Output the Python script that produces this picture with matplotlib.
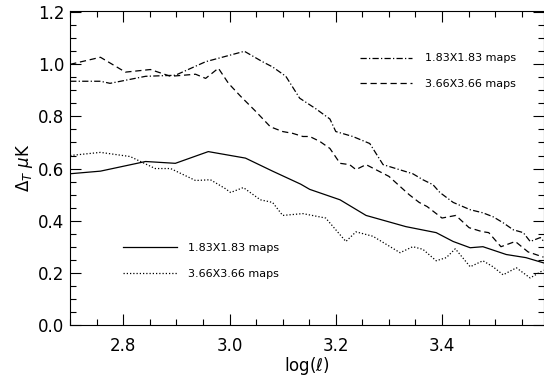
import matplotlib
matplotlib.use("Agg")
import matplotlib.pyplot as plt
from matplotlib.ticker import MultipleLocator

# log(l) sample points and Delta_T values
x_solid = [2.700, 2.757, 2.842, 2.898, 2.960, 3.030, 3.081, 3.134, 3.151, 3.208,
           3.257, 3.332, 3.389, 3.421, 3.453, 3.477, 3.521, 3.558, 3.591]
y_solid = [0.580, 0.590, 0.627, 0.620, 0.665, 0.640, 0.590, 0.540, 0.520, 0.480,
           0.420, 0.377, 0.354, 0.320, 0.296, 0.300, 0.270, 0.258, 0.238]

x_dot = [2.700, 2.757, 2.813, 2.860, 2.889, 2.936, 2.964, 2.992, 3.002, 3.026,
         3.058, 3.081, 3.100, 3.138, 3.181, 3.219, 3.238, 3.270, 3.321, 3.345,
         3.364, 3.389, 3.408, 3.425, 3.453, 3.477, 3.496, 3.515, 3.540, 3.566, 3.591]
y_dot = [0.650, 0.662, 0.646, 0.600, 0.600, 0.554, 0.557, 0.523, 0.508, 0.527,
         0.480, 0.470, 0.420, 0.427, 0.410, 0.320, 0.357, 0.340, 0.277, 0.300,
         0.290, 0.246, 0.258, 0.292, 0.223, 0.246, 0.223, 0.192, 0.219, 0.180, 0.210]

x_dash = [2.700, 2.757, 2.804, 2.851, 2.889, 2.936, 2.955, 2.979, 2.998, 3.021,
          3.049, 3.077, 3.100, 3.119, 3.138, 3.151, 3.170, 3.189, 3.208, 3.226,
          3.238, 3.257, 3.300, 3.338, 3.357, 3.372, 3.400, 3.426, 3.451, 3.475,
          3.488, 3.511, 3.538, 3.562, 3.591]
y_dash = [1.000, 1.027, 0.970, 0.980, 0.954, 0.962, 0.946, 0.985, 0.927, 0.877,
          0.820, 0.760, 0.742, 0.735, 0.723, 0.723, 0.704, 0.677, 0.620, 0.615,
          0.596, 0.615, 0.570, 0.500, 0.470, 0.454, 0.410, 0.420, 0.373, 0.358,
          0.354, 0.300, 0.320, 0.280, 0.260]

x_dd = [2.700, 2.757, 2.775, 2.842, 2.898, 2.955, 3.028, 3.062, 3.081, 3.106,
        3.132, 3.162, 3.189, 3.200, 3.232, 3.264, 3.289, 3.313, 3.345, 3.364,
        3.383, 3.396, 3.421, 3.453, 3.477, 3.496, 3.515, 3.534, 3.553, 3.566,
        3.585, 3.594]
y_dd = [0.935, 0.935, 0.927, 0.954, 0.958, 1.010, 1.050, 1.010, 0.990, 0.954,
        0.870, 0.830, 0.790, 0.742, 0.723, 0.696, 0.615, 0.600, 0.580, 0.557,
        0.538, 0.508, 0.470, 0.442, 0.430, 0.415, 0.392, 0.365, 0.354, 0.320,
        0.335, 0.315]

plt.rcParams['font.family'] = ['DejaVu Sans']

fig = plt.figure(figsize=(5.44, 3.76), dpi=100)
ax = fig.add_axes([0.129, 0.136, 0.871, 0.835])

l1, = ax.plot(x_dd, y_dd, color='black', lw=0.9, linestyle=(0, (5, 1.8, 1, 1.8)))
l2, = ax.plot(x_dash, y_dash, color='black', lw=0.9, linestyle=(0, (5, 3)))
l3, = ax.plot(x_solid, y_solid, color='black', lw=0.9, linestyle='-')
l4, = ax.plot(x_dot, y_dot, color='black', lw=0.9, linestyle=(0, (1, 1.6)))

ax.set_xlim(2.7, 3.592)
ax.set_ylim(0.0, 1.205)
ax.xaxis.set_major_locator(MultipleLocator(0.2))
ax.xaxis.set_minor_locator(MultipleLocator(0.05))
ax.yaxis.set_major_locator(MultipleLocator(0.2))
ax.yaxis.set_minor_locator(MultipleLocator(0.05))
ax.tick_params(which='both', direction='in', top=True, right=True, width=0.8)
ax.tick_params(which='major', length=8, labelsize=12)
ax.tick_params(which='minor', length=4)
ax.tick_params(axis='x', pad=9)
ax.tick_params(axis='y', pad=4)
ax.xaxis.set_major_formatter(matplotlib.ticker.FormatStrFormatter('%.1f'))
ax.yaxis.set_major_formatter(matplotlib.ticker.FormatStrFormatter('%.1f'))
for s in ax.spines.values():
    s.set_linewidth(0.8)

ax.set_xlabel(r'log($\ell$)', fontsize=12, labelpad=0)
ax.set_ylabel(r'$\Delta_T\ \mu$K', fontsize=12, labelpad=2)

leg1 = fig.legend([l1, l2], ['1.83X1.83 maps', '3.66X3.66 maps'],
                  loc='upper left', bbox_to_anchor=(0.662, 0.858), frameon=False,
                  fontsize=8, handlelength=4.7, handletextpad=1.1,
                  labelspacing=1.4, borderpad=0, borderaxespad=0)
leg2 = fig.legend([l3, l4], ['1.83X1.83 maps', '3.66X3.66 maps'],
                  loc='upper left', bbox_to_anchor=(0.226, 0.355), frameon=False,
                  fontsize=8, handlelength=4.9, handletextpad=1.0,
                  labelspacing=1.5, borderpad=0, borderaxespad=0)

fig.savefig('out.png', dpi=100)
